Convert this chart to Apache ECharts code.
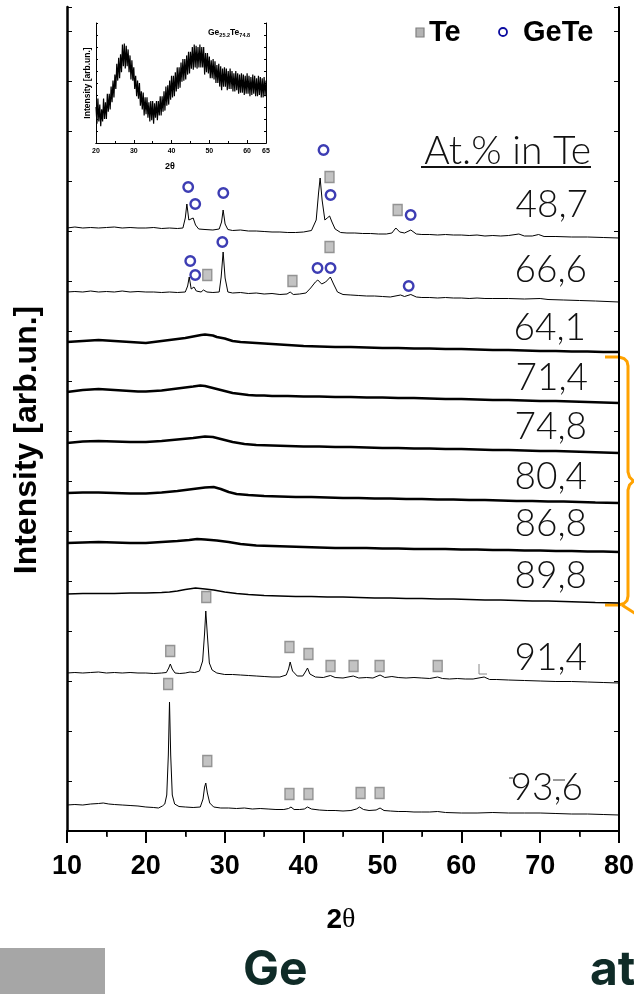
<!DOCTYPE html>
<html>
<head>
<meta charset="utf-8">
<script src="https://cdn.jsdelivr.net/npm/echarts@6/dist/echarts.min.js"></script>
<style>
  html, body { margin: 0; padding: 0; background: #fff; }
  #chart { width: 634px; height: 994px; }
</style>
</head>
<body>
<div id="chart"></div>
<script>
// sample compositions, top to bottom
const samples = ['48,7', '66,6', '64,1', '71,4', '74,8', '80,4', '86,8', '89,8', '91,4', '93,6'];

// vertical shift of each pattern (value of its baseline at 80 deg)
const offsets = [593, 529, 479, 428, 378, 328, 279, 228, 148, 16];

// [2theta, intensity above the shifted baseline]
const xrd487 = [[10,10],[11,11],[12,10],[13,10.5],[14,10],[15,10.5],[16,11],[17,10],[18,10.5],[19,10],[20,10],[21,10.5],[22,9.5],[23,10],[24,9.5],[24.7,10],[25.0,20],[25.2,34],[25.45,18],[25.7,16],[26.0,20],[26.3,13],[26.7,9],[27.5,8.5],[28.5,8],[29.3,9],[29.6,16],[29.8,28],[30.05,14],[30.4,8.5],[31,7.5],[32,8],[33,7],[34,7],[35,6.5],[36,6],[37,6],[38,5.5],[39,5.5],[40,6],[41,7.5],[41.6,18],[41.9,45],[42.1,60],[42.35,38],[42.7,18],[43.0,20],[43.3,22],[43.6,16],[44.0,9],[44.7,5.5],[45.5,5],[46.5,5],[47.5,4.5],[48.5,4.5],[49.5,4],[50.5,4],[51.2,5],[51.7,10],[52.2,6],[52.8,5],[53.6,8],[54.3,4],[55,3.5],[56,3.5],[57,3],[58,3.5],[59,3],[60,3],[61,2.5],[62,3],[63,2],[64,2.5],[65,2],[66,2.5],[67.3,4],[68,2],[69,2],[69.8,3.5],[70.5,1.5],[72,1.5],[74,1],[76,1],[78,0.5],[80,0]];
const xrd666 = [[10,10],[11,10.5],[12,10],[13,11],[14,10],[15,10.5],[16,10],[17,11],[18,10],[19,10.5],[20,10],[21,10],[22,9.5],[23,10],[24,9.5],[25,10],[25.3,16],[25.5,25],[25.75,13],[26.1,15],[26.4,11],[27.0,10],[27.3,12],[27.5,14],[27.75,10],[28.5,9.5],[29.3,10],[29.55,25],[29.8,50],[30.05,24],[30.4,10],[31,9],[32,9.5],[33,8.5],[34,9],[35,8],[36,8.5],[37,7.5],[37.9,8],[38.3,10],[38.7,7.5],[39.5,8],[40.3,9],[40.9,14],[41.5,20],[41.8,22],[42.3,18],[42.8,20],[43.4,25],[43.8,18],[44.3,10],[45,7.5],[46,7],[47,6.5],[48,6],[49,6],[50,5.5],[51,5],[52.3,7],[52.8,5.5],[53.6,7.5],[54.3,5],[55,4.5],[56,4.5],[57,4],[58,4.5],[59,4],[60,4],[61,3.5],[62,4],[63,3.5],[64,3.5],[66,3.5],[68,3],[70,3.5],[71,2.5],[73,2],[75,1.5],[77,1],[80,0]];
const xrd641 = [[10,10],[11,10.5],[12,11],[13,11.5],[14,12],[15,11.5],[16,11],[17,10.5],[18,10],[19,9.5],[20,9],[21,10],[22,11],[23,12],[24,13],[25,14],[26,15.5],[27,17],[27.5,17.5],[28,17],[28.5,16.5],[29,15],[30,13.5],[31,11],[32,10],[33,9.5],[34,9],[35,8.5],[36,8],[37,7.5],[38,7],[39,6.5],[40,6],[42,5.5],[44,5],[46,5],[48,4.5],[50,4],[52,4],[54,3.5],[56,3.5],[58,3],[60,3],[62,2.5],[64,2],[66,2],[68,1.5],[70,1],[72,1],[74,0.5],[76,0.5],[78,0],[80,0]];
const xrd714 = [[10,11],[11,12],[12,13],[13,13.5],[14,14],[15,13.5],[16,13],[17,12.5],[18,12],[19,11.5],[20,11.5],[21,12],[22,12.5],[23,13.5],[24,14.5],[25,15.5],[26,16.5],[26.9,17.5],[27.5,17],[28,16],[29,14],[30,12],[31,10],[32,9],[33,8],[34,7.5],[35,7.5],[36,7],[38,7],[40,6.5],[42,6.5],[44,6],[46,6],[48,5.5],[50,5.5],[52,5],[54,5],[56,4.5],[58,4],[60,4],[62,3.5],[64,3],[66,3],[68,2.5],[70,2],[72,2],[74,1.5],[76,1],[78,0.5],[80,0]];
const xrd748 = [[10,10],[12,11.5],[14,12],[16,11.5],[18,11],[20,11],[22,12],[24,13.5],[26,15],[27.5,16.5],[28.5,16],[29.5,14],[31,11],[32.5,9],[34,8],[36,7.5],[38,7],[40,6.5],[42,6.5],[44,6],[46,6],[48,5.5],[50,5],[52,5],[54,4.5],[56,4.5],[58,4],[60,4],[62,3.5],[64,3],[66,3],[68,2.5],[70,2],[72,2],[74,1.5],[76,1],[78,0.5],[80,0]];
const xrd804 = [[10,10],[12,10.5],[14,10.5],[16,10],[18,9.5],[20,9.5],[22,10.5],[24,12],[26,14],[27.5,15.5],[28.6,16],[29.5,14],[30.5,11],[31.5,9],[33,8],[35,7],[37,6.5],[39,6],[41,6],[43,5.5],[45,5],[47,5],[49,4.5],[51,4.5],[53,4],[55,4],[57,3.5],[59,3.5],[61,3],[63,3],[65,2.5],[67,2],[69,2],[71,1.5],[73,1.5],[75,1],[77,0.5],[80,0]];
const xrd868 = [[10,9],[12,9.5],[14,10],[16,9.5],[18,9],[20,9],[22,10],[24,11],[25.5,12],[26.5,13],[27.5,12.5],[29,11.5],[30.5,10],[32,8],[34,6.5],[36,6],[38,5.5],[40,5],[42,4.5],[44,4],[46,4],[48,4],[50,3.5],[52,3.5],[54,3],[56,3],[58,3],[60,2.5],[62,2.5],[64,2],[66,2],[68,1.5],[70,1.5],[72,1],[74,1],[76,0.5],[78,0.5],[80,0]];
const xrd898 = [[10,9],[12,9.5],[14,9.5],[16,9.5],[18,10],[20,10],[22,10.5],[23,11],[24,12],[25,13.5],[26.3,15],[27.5,14],[28.6,13],[30,11],[31.5,9.5],[33,8.5],[35,7.5],[37,7],[39,6.5],[41,6.5],[43,6],[45,6],[47,5.5],[49,5],[51,5],[53,4.5],[55,4.5],[57,4],[59,4],[61,3.5],[63,3],[65,3],[67,2.5],[69,2],[71,2],[73,1.5],[75,1],[77,0.5],[80,0]];
const xrd914 = [[10,10],[11,10.5],[12,10],[13,10.5],[14,11],[15,10],[16,10.5],[17,10],[18,10.5],[19,10],[20,10],[21,9.5],[22,10],[22.6,10.5],[22.9,15],[23.1,19],[23.35,14],[23.7,10],[24.3,9.5],[25,10],[25.6,11],[26.2,10.5],[26.8,12],[27.2,22],[27.45,50],[27.6,72],[27.8,48],[28.05,20],[28.4,13],[29,10],[30,8.5],[31,8.5],[32,8],[33,7.5],[34,7],[35,6.5],[36,6],[37,6],[37.8,8],[38.1,14],[38.3,21],[38.6,12],[39.2,7],[39.9,7],[40.3,12],[40.5,15],[40.8,9],[41.5,6],[42.5,5.5],[43.4,7.5],[44,5.5],[45,5],[46.3,7],[47,5],[48,5.5],[48.8,5],[49.7,8],[50.3,5.5],[51.2,6.5],[52,5.5],[53,5],[54,5.5],[55,5],[56,4.5],[57,6],[57.6,4.5],[58.5,4],[59.5,4.5],[60.5,4],[61.5,4],[62.9,6],[63.6,3.5],[64.5,3.5],[66,3],[68,2.5],[70,2],[72,1.5],[74,1.5],[76,1],[78,0.5],[80,0]];
const xrd936 = [[10,10],[11,10.5],[12,10],[13,11],[14,11.5],[14.6,12],[15.3,11],[16,10.5],[17,10],[18,9.5],[19,9],[20,8],[21,7.5],[21.6,7],[22.1,9],[22.4,11],[22.65,20],[22.85,60],[23.0,113],[23.15,60],[23.35,20],[23.65,11],[24.2,8.5],[25,8],[26,7.5],[26.9,8],[27.25,16],[27.45,28],[27.6,32],[27.8,22],[28.1,12],[28.6,8],[29.5,7],[30.5,7],[31.5,6.5],[32.5,7],[33.5,6],[34.5,6.5],[35.5,6],[36.5,5.5],[37.5,5.5],[38.1,6.5],[38.4,8],[38.8,5.5],[39.5,5.5],[40.1,6],[40.5,8],[41,6],[42,5],[43,4.5],[44,4.5],[45,4],[46,4.5],[46.7,6],[47.1,8],[47.6,5.5],[48.3,4.5],[49.2,5],[49.7,7],[50.2,4.5],[51,4],[52,3.5],[53,3.5],[54,3],[55,3],[56,3],[57,3.5],[58,2.5],[60,2],[62,2],[64,2.5],[66,2],[68,2],[70,2],[72,1.5],[74,1],[76,1],[78,0.5],[80,0]];
const traces = [xrd487, xrd666, xrd641, xrd714, xrd748, xrd804, xrd868, xrd898, xrd914, xrd936];

// phase marks [2theta, height on the stacked scale]
const teMarks = [[43.29,654],[51.93,621],[27.79,556],[38.59,550],[43.29,584],
  [27.66,234],[23.09,180],[38.21,184],[40.62,177],[43.42,165],[46.34,165],[49.64,165],[57.01,165],
  [22.83,147],[27.79,70],[38.21,37],[40.62,37],[47.23,38],[49.64,38]];
const geteMarks = [[25.37,644],[26.26,627],[29.82,638],[42.53,681],[43.42,636],[53.58,616],
  [25.63,570],[26.26,556],[29.70,589],[41.77,563],[43.42,563],[53.33,545]];

// inset: Ge25.2Te74.8, 20..65 deg every 0.25 deg
const insetStart = 20, insetStep = 0.25;
const insetCounts = [30,16,37,18,32,14,28,18,37,20,34,20,41,26,41,28,47,34,52,38,57,45,66,52,71,54,74,59,82,64,83,62,81,64,78,59,73,53,69,52,
  63,45,56,39,52,37,50,31,43,28,42,23,38,24,38,21,34,18,35,19,35,16,33,21,35,19,35,23,39,23,39,26,43,27,47,31,48,32,52,36,
  56,38,56,39,59,43,63,45,63,46,67,51,70,52,70,53,73,57,76,58,76,62,80,61,82,63,81,62,80,63,82,63,80,63,80,57,75,59,75,58,
  72,54,69,54,70,53,68,50,65,50,66,47,64,44,62,47,63,47,62,44,60,45,62,45,60,43,58,43,60,44,58,41,57,42,58,42,57,40,56,41,
  58,41,56,39,55,40,57,41,56,39,54,39,56,40,55,38,54,38,55,39,52];

const chart = echarts.init(document.getElementById('chart'));

const traceWidth = [1, 1, 2.5, 2.5, 2.5, 2.5, 2.5, 1.4, 1, 1];

const lineSeries = traces.map((pts, i) => ({
  type: 'line',
  name: samples[i],
  xAxisIndex: 0,
  yAxisIndex: 0,
  symbol: 'none',
  silent: true,
  lineStyle: { color: '#000', width: traceWidth[i] },
  data: pts.map(p => [p[0], offsets[i] + p[1]])
}));

const labelY = [205, 270, 328, 378, 427, 477, 524, 576, 658, 788];
const labelRight = [588, 587, 586, 588, 587, 587, 587, 587, 587, 583];
const sampleLabels = samples.map((s, i) => ({
  type: 'text',
  x: labelRight[i],
  y: labelY[i],
  style: {
    text: s,
    align: 'right',
    verticalAlign: 'middle',
    font: '300 37px Lato, "Open Sans", sans-serif',
    fill: '#111'
  }
}));

const braceStyle = { fill: 'none', stroke: '#ffa200', lineWidth: 3 };

const option = {
  animation: false,
  grid: [
    { left: 67, right: 15, top: 7, bottom: 163, outerBoundsMode: 'none' },
    { left: 96, right: 368, top: 23, bottom: 851, outerBoundsMode: 'none' }
  ],
  xAxis: [
    {
      type: 'value', gridIndex: 0, position: 'bottom', min: 10, max: 80, interval: 10,
      axisLine: { lineStyle: { color: '#000', width: 2 } },
      axisTick: { inside: false, length: 12, lineStyle: { color: '#000', width: 2 } },
      minorTick: { show: true, splitNumber: 2, length: 6, lineStyle: { color: '#000', width: 1.5 } },
      axisLabel: { fontSize: 27, fontWeight: 'bold', fontFamily: 'Liberation Sans, Arial', color: '#000',
        margin: 10, padding: [12, 0, 0, 0] },
      splitLine: { show: false }
    },
    {
      type: 'value', gridIndex: 0, position: 'top', min: 10, max: 80, interval: 5,
      axisLine: { lineStyle: { color: '#000', width: 2 } },
      axisTick: { inside: true, length: 5, lineStyle: { color: '#000', width: 1 } },
      axisLabel: { show: false },
      splitLine: { show: false }
    },
    {
      type: 'value', gridIndex: 1, position: 'bottom', min: 20, max: 65, interval: 10,
      axisLine: { lineStyle: { color: '#000', width: 1 } },
      axisTick: { inside: true, length: 3, lineStyle: { color: '#000', width: 1 } },
      minorTick: { show: true, splitNumber: 2, length: 2, lineStyle: { color: '#000', width: 1 } },
      axisLabel: { fontSize: 7, fontWeight: 'bold', fontFamily: 'Liberation Sans, Arial', color: '#000', margin: 5 },
      splitLine: { show: false }
    },
    {
      type: 'value', gridIndex: 1, position: 'top', min: 20, max: 65, interval: 5,
      axisLine: { lineStyle: { color: '#000', width: 1 } },
      axisTick: { show: false },
      axisLabel: { show: false },
      splitLine: { show: false }
    }
  ],
  yAxis: [
    {
      type: 'value', gridIndex: 0, position: 'left', min: 0, max: 824, interval: 50,
      axisLine: { show: true, lineStyle: { color: '#000', width: 2.5 } },
      axisTick: { show: true, inside: true, length: 5, lineStyle: { color: '#000', width: 1 } },
      axisLabel: { show: false },
      splitLine: { show: false }
    },
    {
      type: 'value', gridIndex: 0, position: 'right', min: 0, max: 824, interval: 50,
      axisLine: { show: true, lineStyle: { color: '#000', width: 2 } },
      axisTick: { show: true, inside: true, length: 5, lineStyle: { color: '#000', width: 1 } },
      axisLabel: { show: false },
      splitLine: { show: false }
    },
    {
      type: 'value', gridIndex: 1, position: 'left', min: 0, max: 100, interval: 10,
      axisLine: { show: true, lineStyle: { color: '#000', width: 1 } },
      axisTick: { show: true, inside: true, length: 2, lineStyle: { color: '#000', width: 1 } },
      axisLabel: { show: false },
      splitLine: { show: false }
    },
    {
      type: 'value', gridIndex: 1, position: 'right', min: 0, max: 100, interval: 10,
      axisLine: { show: true, lineStyle: { color: '#000', width: 1 } },
      axisTick: { show: true, inside: true, length: 2, lineStyle: { color: '#000', width: 1 } },
      axisLabel: { show: false },
      splitLine: { show: false }
    }
  ],
  series: [
    ...lineSeries,
    {
      type: 'scatter', name: 'Te', xAxisIndex: 0, yAxisIndex: 0, silent: true,
      symbol: 'rect', symbolSize: [9, 11],
      itemStyle: { color: '#b4b4b4', borderColor: '#808080', borderWidth: 1.5 },
      data: teMarks
    },
    {
      type: 'scatter', name: 'GeTe', xAxisIndex: 0, yAxisIndex: 0, silent: true,
      symbol: 'circle', symbolSize: 9.5,
      itemStyle: { color: 'rgba(255,255,255,0)', borderColor: '#0c0ca0', borderWidth: 2.4 },
      data: geteMarks
    },
    {
      type: 'line', name: 'inset', xAxisIndex: 2, yAxisIndex: 2, symbol: 'none', silent: true,
      lineStyle: { color: '#000', width: 1.2 },
      data: insetCounts.map((c, i) => [insetStart + i * insetStep, c])
    }
  ],
  graphic: [
    // main axis titles
    {
      type: 'text', x: 27, y: 440, rotation: Math.PI / 2,
      style: { text: 'Intensity [arb.un.]', align: 'center', verticalAlign: 'middle',
        font: 'bold 32px "Liberation Sans", Arial', fill: '#000' }
    },
    {
      type: 'text', x: 341, y: 920,
      style: {
        text: '{a|2}{b|θ}', align: 'center', verticalAlign: 'middle',
        rich: {
          a: { fontSize: 28, fontWeight: 'bold', fontFamily: 'Liberation Sans', fill: '#000' },
          b: { fontSize: 28, fontFamily: 'Liberation Serif', fill: '#000' }
        }
      }
    },
    // inset titles
    {
      type: 'text', x: 88, y: 83, rotation: Math.PI / 2,
      style: { text: 'Intensity [arb.un.]', align: 'center', verticalAlign: 'middle',
        font: 'bold 8.5px "Liberation Sans", Arial', fill: '#000' }
    },
    {
      type: 'text', x: 170, y: 167,
      style: { text: '2θ', align: 'center', verticalAlign: 'middle',
        font: 'bold 9px "Liberation Sans", Arial', fill: '#000' }
    },
    {
      type: 'text', x: 208, y: 33,
      style: {
        text: '{g|Ge}{s|25.2}{g|Te}{s|74.8}', verticalAlign: 'middle',
        rich: {
          g: { fontSize: 8.5, fontWeight: 'bold', fontFamily: 'Liberation Sans', fill: '#000' },
          s: { fontSize: 5.5, fontWeight: 'bold', fontFamily: 'Liberation Sans', fill: '#000', padding: [5, 0, 0, 0] }
        }
      }
    },
    // legend
    { type: 'rect', shape: { x: 416, y: 28, width: 8, height: 9 },
      style: { fill: '#b4b4b4', stroke: '#808080', lineWidth: 1.2 } },
    { type: 'text', x: 429, y: 33,
      style: { text: 'Te', verticalAlign: 'middle', font: 'bold 29px "Liberation Sans", Arial', fill: '#000' } },
    { type: 'circle', shape: { cx: 503, cy: 32, r: 4 },
      style: { fill: 'none', stroke: '#0c0ca0', lineWidth: 1.8 } },
    { type: 'text', x: 523, y: 33,
      style: { text: 'GeTe', verticalAlign: 'middle', font: 'bold 29px "Liberation Sans", Arial', fill: '#000' } },
    // composition header
    { type: 'text', x: 591, y: 151,
      style: { text: 'At.% in Te', align: 'right', verticalAlign: 'middle',
        font: '300 39px Lato, "Open Sans", sans-serif', fill: '#111' } },
    { type: 'rect', shape: { x: 421, y: 166, width: 170, height: 2 }, style: { fill: '#111' } },
    ...sampleLabels,
    // bracket for the amorphous films
    { type: 'polyline', shape: { points: [[605, 357], [619, 357], [624, 358.5], [627, 361.5], [628, 366], [628, 472], [629.5, 477], [633, 480.5], [638, 482]] }, style: braceStyle },
    { type: 'polyline', shape: { points: [[638, 480], [633, 481.5], [629.5, 485], [628, 490], [628, 596], [627, 600.5], [624, 603.5], [619, 605], [605, 605]] }, style: braceStyle },
    { type: 'polyline', shape: { points: [[622, 605], [636, 614]] }, style: braceStyle },
    // small stray marks of the original figure
    { type: 'polyline', shape: { points: [[479, 664], [479, 674], [487, 674]] },
      style: { stroke: '#888', lineWidth: 1, fill: 'none' } },
    { type: 'line', shape: { x1: 553, y1: 780, x2: 565, y2: 780 }, style: { stroke: '#333', lineWidth: 1 } },
    { type: 'line', shape: { x1: 509, y1: 778, x2: 513, y2: 778 }, style: { stroke: '#333', lineWidth: 1 } },
    // slide footer
    { type: 'rect', shape: { x: 0, y: 948, width: 105, height: 46 }, style: { fill: '#a6a6a6' } },
    { type: 'text', x: 243, y: 971,
      style: { text: 'Ge', verticalAlign: 'middle', font: 'bold 48px Inter, Lato, sans-serif', fill: '#0f2b27' } },
    { type: 'text', x: 590, y: 971,
      style: { text: 'at', verticalAlign: 'middle', font: 'bold 48px Inter, Lato, sans-serif', fill: '#0f2b27' } }
  ]
};

chart.setOption(option);
</script>
</body>
</html>
